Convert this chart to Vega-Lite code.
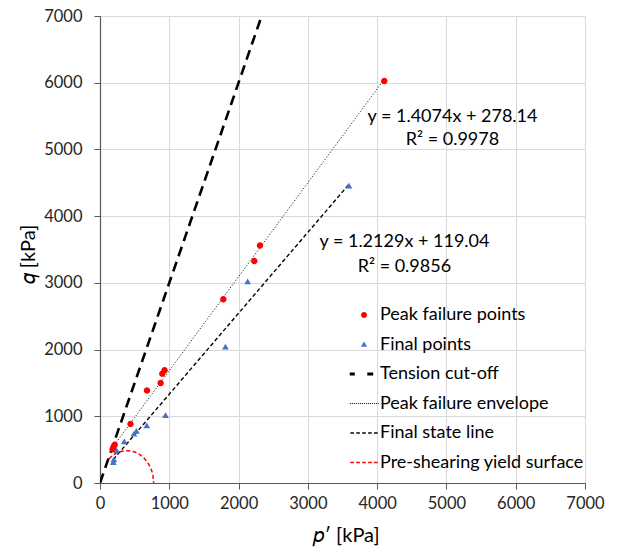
{
  "$schema": "https://vega.github.io/schema/vega-lite/v6.json",
  "width": 485,
  "height": 467,
  "autosize": {"type": "none"},
  "padding": {"left": 100, "top": 16, "right": 33, "bottom": 64},
  "background": "white",
  "view": {"stroke": null},
  "config": {
    "font": "Lato",
    "axis": {
      "labelFont": "Lato",
      "labelFontSize": 16.5,
      "labelColor": "#262626",
      "labelFlush": false,
      "titleFont": "Lato",
      "titleFontSize": 20,
      "titleFontWeight": "normal",
      "titleColor": "#000000",
      "gridColor": "#D9D9D9",
      "gridWidth": 1,
      "domainColor": "#595959",
      "domainWidth": 1.2,
      "tickColor": "#595959",
      "tickSize": 6,
      "tickWidth": 1
    }
  },
  "datasets": {
    "points": [
      {"series": "Peak failure points", "p": 183, "q": 505},
      {"series": "Peak failure points", "p": 195, "q": 540},
      {"series": "Peak failure points", "p": 212, "q": 575},
      {"series": "Peak failure points", "p": 440, "q": 886},
      {"series": "Peak failure points", "p": 678, "q": 1388},
      {"series": "Peak failure points", "p": 875, "q": 1499},
      {"series": "Peak failure points", "p": 899, "q": 1639},
      {"series": "Peak failure points", "p": 932, "q": 1689},
      {"series": "Peak failure points", "p": 1780, "q": 2754},
      {"series": "Peak failure points", "p": 2227, "q": 3328},
      {"series": "Peak failure points", "p": 2309, "q": 3559},
      {"series": "Peak failure points", "p": 4103, "q": 6025},
      {"series": "Final points", "p": 192, "q": 310},
      {"series": "Final points", "p": 200, "q": 350},
      {"series": "Final points", "p": 240, "q": 485},
      {"series": "Final points", "p": 350, "q": 618},
      {"series": "Final points", "p": 490, "q": 736},
      {"series": "Final points", "p": 525, "q": 778},
      {"series": "Final points", "p": 675, "q": 860},
      {"series": "Final points", "p": 946, "q": 1013},
      {"series": "Final points", "p": 1810, "q": 2040},
      {"series": "Final points", "p": 2131, "q": 3018},
      {"series": "Final points", "p": 3593, "q": 4451}
    ],
    "tension": [
      {"p": 0, "q": 0},
      {"p": 2333, "q": 7000}
    ],
    "envelope": [
      {"p": 183, "q": 535.7},
      {"p": 4103, "q": 6052.7}
    ],
    "finalLine": [
      {"p": 192, "q": 351.9},
      {"p": 3593, "q": 4477.0}
    ],
    "yield": [
      {"p": 130, "q": 362},
      {"p": 150, "q": 383},
      {"p": 200, "q": 424},
      {"p": 250, "q": 453},
      {"p": 300, "q": 472},
      {"p": 350, "q": 482},
      {"p": 387, "q": 484},
      {"p": 425, "q": 482},
      {"p": 475, "q": 472},
      {"p": 500, "q": 464},
      {"p": 525, "q": 453},
      {"p": 550, "q": 440},
      {"p": 575, "q": 424},
      {"p": 600, "q": 405},
      {"p": 625, "q": 383},
      {"p": 650, "q": 356},
      {"p": 675, "q": 325},
      {"p": 700, "q": 286},
      {"p": 725, "q": 238},
      {"p": 750, "q": 171},
      {"p": 765, "q": 109},
      {"p": 775, "q": 0}
    ],
    "labels": [
      {"label": "y = 1.4074x + 278.14", "p": 5087, "q": 5491},
      {"label": "R² = 0.9978", "p": 5087, "q": 5142},
      {"label": "y = 1.2129x + 119.04", "p": 4394, "q": 3608},
      {"label": "R² = 0.9856", "p": 4394, "q": 3242}
    ]
  },
  "encoding": {
    "x": {
      "field": "p", "type": "quantitative",
      "scale": {"domain": [0, 7000], "nice": false, "zero": true},
      "axis": {
        "title": "𝑝′ [kPa]",
        "format": "d",
        "values": [0, 1000, 2000, 3000, 4000, 5000, 6000, 7000],
        "labelPadding": 6,
        "titleX": 246,
        "titleY": 52,
        "titleAlign": "center",
        "titleBaseline": "middle"
      }
    },
    "y": {
      "field": "q", "type": "quantitative",
      "scale": {"domain": [0, 7000], "nice": false, "zero": true},
      "axis": {
        "title": "𝑞 [kPa]",
        "format": "d",
        "values": [0, 1000, 2000, 3000, 4000, 5000, 6000, 7000],
        "labelPadding": 12,
        "titleX": -72,
        "titleY": 238,
        "titleAngle": -90,
        "titleAlign": "center",
        "titleBaseline": "middle"
      }
    }
  },
  "layer": [
    {
      "data": {"name": "tension"},
      "mark": {"type": "line", "color": "#000000", "strokeWidth": 2.6, "strokeDash": [10, 6], "clip": true},
      "encoding": {}
    },
    {
      "data": {"name": "envelope"},
      "mark": {"type": "line", "color": "#262626", "strokeWidth": 1, "strokeDash": [1.2, 1.8]},
      "encoding": {}
    },
    {
      "data": {"name": "finalLine"},
      "mark": {"type": "line", "color": "#000000", "strokeWidth": 1.4, "strokeDash": [4, 2.5]},
      "encoding": {}
    },
    {
      "data": {"name": "yield"},
      "mark": {"type": "line", "color": "#FF0000", "strokeWidth": 1.5, "strokeDash": [4, 2.5]},
      "encoding": {}
    },
    {
      "data": {"name": "points"},
      "mark": {"type": "point", "filled": true, "size": 1024, "opacity": 1, "strokeWidth": 0},
      "encoding": {
        "color": {
          "field": "series", "type": "nominal",
          "scale": {
            "domain": ["Peak failure points", "Final points", "Tension cut-off", "Peak failure envelope", "Final state line", "Pre-shearing yield surface"],
            "range": ["#FF0000", "#4472C4", "#000000", "#1a1a1a", "#000000", "#FF0000"]
          },
          "legend": {
            "title": null,
            "orient": "none",
            "legendX": 249,
            "legendY": 284,
            "padding": 0,
            "rowPadding": 5.5,
            "symbolSize": 880,
            "symbolStrokeWidth": 0,
            "labelFont": "Lato",
            "labelFontSize": 18,
            "labelColor": "#000000",
            "labelOffset": 1,
            "labelLimit": 400,
            "symbolOpacity": 1,
            "encode": {
              "symbols": {"update": {"fill": {"scale": "color", "field": "value"}, "strokeWidth": {"value": 0}, "opacity": {"value": 1}}}
            }
          }
        },
        "shape": {
          "field": "series", "type": "nominal",
          "scale": {
            "domain": ["Peak failure points", "Final points", "Tension cut-off", "Peak failure envelope", "Final state line", "Pre-shearing yield surface"],
            "range": [
              "M-0.2,0A0.2,0.2,0,1,0,0.2,0A0.2,0.2,0,1,0,-0.2,0Z",
              "M0,-0.2L0.21,0.16L-0.21,0.16Z",
              "M-0.96,-0.1H-0.62V0.1H-0.96ZM0.22,-0.1H0.62V0.1H0.22Z",
              "M-0.95,-0.035H-0.88V0.035H-0.95ZM-0.815,-0.035H-0.745V0.035H-0.815ZM-0.68,-0.035H-0.61V0.035H-0.68ZM-0.545,-0.035H-0.475V0.035H-0.545ZM-0.41,-0.035H-0.34V0.035H-0.41ZM-0.275,-0.035H-0.205V0.035H-0.275ZM-0.14,-0.035H-0.07V0.035H-0.14ZM-0.005,-0.035H0.065V0.035H-0.005ZM0.13,-0.035H0.2V0.035H0.13ZM0.265,-0.035H0.335V0.035H0.265ZM0.4,-0.035H0.47V0.035H0.4ZM0.535,-0.035H0.605V0.035H0.535ZM0.67,-0.035H0.74V0.035H0.67ZM0.805,-0.035H0.875V0.035H0.805ZM0.94,-0.035H1.0V0.035H0.94Z",
              "M-0.92,-0.05H-0.68V0.05H-0.92ZM-0.52,-0.05H-0.28V0.05H-0.52ZM-0.12,-0.05H0.12V0.05H-0.12ZM0.28,-0.05H0.52V0.05H0.28ZM0.68,-0.05H0.92V0.05H0.68Z",
              "M-0.92,-0.05H-0.68V0.05H-0.92ZM-0.52,-0.05H-0.28V0.05H-0.52ZM-0.12,-0.05H0.12V0.05H-0.12ZM0.28,-0.05H0.52V0.05H0.28ZM0.68,-0.05H0.92V0.05H0.68Z"
            ]
          },
          "legend": null
        }
      }
    },
    {
      "data": {"name": "labels"},
      "mark": {"type": "text", "font": "Lato", "fontSize": 18, "align": "center", "baseline": "middle", "color": "#000000"},
      "encoding": {"text": {"field": "label", "type": "nominal"}}
    }
  ]
}
